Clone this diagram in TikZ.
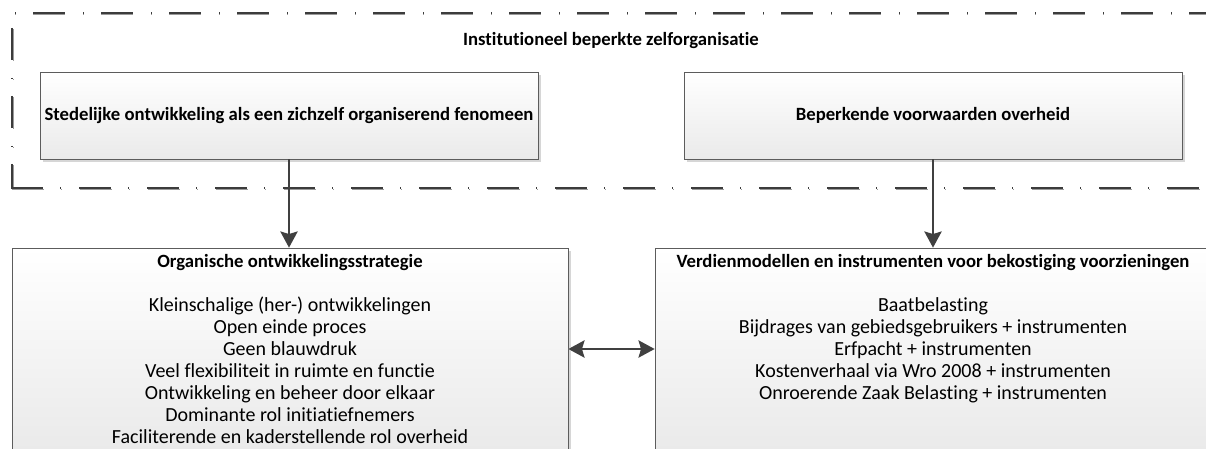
\documentclass[tikz,border=0pt]{standalone}
\usepackage{fontspec}
\setmainfont[Ligatures=NoCommon]{Carlito}
\usetikzlibrary{arrows.meta,shadows}
\definecolor{framec}{HTML}{3C3C3C}
\definecolor{frameshadow}{HTML}{9A9A9A}
\definecolor{boxline}{HTML}{5C5C5C}
\definecolor{boxbot}{HTML}{EAEAEA}
\definecolor{shadowc}{HTML}{D6D6D6}
\definecolor{arrowc}{HTML}{404040}
\begin{document}
\begin{tikzpicture}[x=1pt,y=-1pt,
  box/.style={draw=boxline, line width=0.8pt, top color=white, bottom color=boxbot,
    drop shadow={shadow xshift=3pt, shadow yshift=-3pt, fill=shadowc, opacity=1},
    inner sep=0pt},
  boldtxt/.style={font=\fontsize{18.7}{22}\selectfont\bfseries},
  bodytxt/.style={font=\fontsize{20}{22}\selectfont},
  framel/.style={draw=framec, line width=1.8pt},
  frames/.style={draw=frameshadow, line width=1.2pt},
  arrowline/.style={draw=arrowc, line width=2.8pt, -{Stealth[length=16pt,width=17pt,inset=2.5pt]}},
  arrowshadow/.style={draw=shadowc, line width=2.8pt, -{Stealth[length=16pt,width=17pt,inset=2.5pt]}},
  darrowline/.style={draw=arrowc, line width=2.8pt, {Stealth[length=16pt,width=17pt,inset=2.5pt]}-{Stealth[length=16pt,width=17pt,inset=2.5pt]}},
  darrowshadow/.style={draw=shadowc, line width=2.8pt, {Stealth[length=16pt,width=17pt,inset=2.5pt]}-{Stealth[length=16pt,width=17pt,inset=2.5pt]}}
]
\useasboundingbox[fill=white] (0,0) rectangle (1206,449);

% dash-dot frame (shadow, then line)
\begin{scope}[yshift=-1.3pt]
\draw[frames, dash pattern=on 1pt off 17pt on 32pt off 18pt, dash phase=65pt] (12,13) -- (1215,13);
\draw[frames, dash pattern=on 1pt off 17pt on 32pt off 18pt, dash phase=3pt] (13.3,13) -- (13.3,188);
\draw[frames, dash pattern=on 32pt off 17pt on 1pt off 18pt] (12,188) -- (1215,188);
\end{scope}
\draw[framel, dash pattern=on 1pt off 17pt on 32pt off 18pt, dash phase=65pt] (12,13) -- (1215,13);
\draw[framel, dash pattern=on 1pt off 17pt on 32pt off 18pt, dash phase=3pt] (12,13) -- (12,188.9);
\draw[framel, dash pattern=on 32pt off 17pt on 1pt off 18pt] (11.1,188) -- (1215,188);

\node[boldtxt, anchor=base] (title) at (611,46) {Institutioneel beperkte zelforganisatie};

% top boxes
\node[box, boldtxt, minimum width=498pt, minimum height=87pt] (b1) at (289,115.5)
  {Stedelijke ontwikkeling als een zichzelf organiserend fenomeen};
\node[box, boldtxt, minimum width=498pt, minimum height=87pt] (b2) at (933,115.5)
  {Beperkende voorwaarden overheid};

% bottom boxes
\node[box, minimum width=556pt, minimum height=202pt] (b3) at (290,349) {};
\node[box, minimum width=556pt, minimum height=202pt] (b4) at (933,349) {};

\node[bodytxt, anchor=base, inner sep=0pt] (t3) at (290,267) {\begin{tabular}[t]{@{}c@{}}
{\fontsize{18.7}{22}\selectfont\bfseries Organische ontwikkelingsstrategie}\\
\\
Kleinschalige (her-) ontwikkelingen\\
Open einde proces\\
Geen blauwdruk\\
Veel flexibiliteit in ruimte en functie\\
Ontwikkeling en beheer door elkaar\\
Dominante rol initiatiefnemers\\
Faciliterende en kaderstellende rol overheid
\end{tabular}};

\node[bodytxt, anchor=base, inner sep=0pt] (t4) at (933,267) {\begin{tabular}[t]{@{}c@{}}
{\fontsize{18.7}{22}\selectfont\bfseries Verdienmodellen en instrumenten voor bekostiging voorzieningen}\\
\\
Baatbelasting\\
Bijdrages van gebiedsgebruikers + instrumenten\\
Erfpacht + instrumenten\\
Kostenverhaal via Wro 2008 + instrumenten\\
Onroerende Zaak Belasting + instrumenten
\end{tabular}};

% connectors
\begin{scope}[xshift=2pt, yshift=-2pt]
\draw[arrowshadow] (b1.south) -- (b1.south |- b3.north);
\draw[arrowshadow] (b2.south) -- (b2.south |- b4.north);
\draw[darrowshadow] (b3.east) -- (b4.west);
\end{scope}
\draw[arrowline] (b1.south) -- (b1.south |- b3.north);
\draw[arrowline] (b2.south) -- (b2.south |- b4.north);
\draw[darrowline] (b3.east) -- (b4.west);
\end{tikzpicture}
\end{document}
